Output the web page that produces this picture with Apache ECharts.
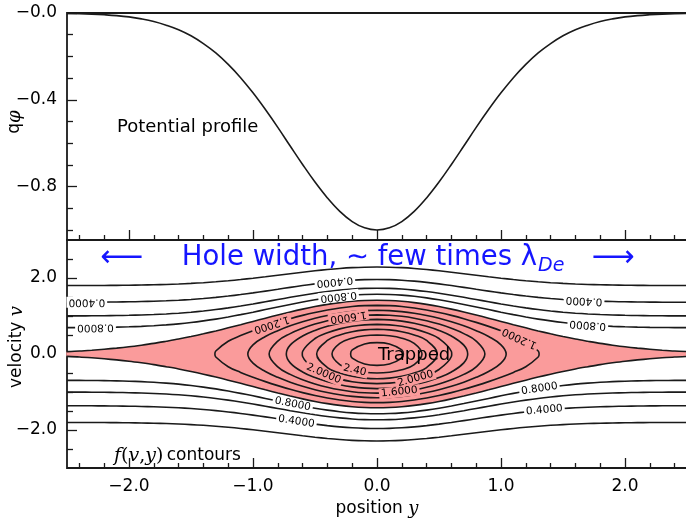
<!DOCTYPE html>
<html><head><meta charset="utf-8">
<script src="https://cdn.jsdelivr.net/npm/echarts@6/dist/echarts.min.js"></script>
<style>html,body{margin:0;padding:0;background:#fff}#c{width:686px;height:521px}</style>
</head><body><div id="c"></div>
<script>
// ---- data ----
// potential profile q*phi, sampled at |y| (profile is symmetric in y)
const phiAbsY = [0,0.1,0.2,0.3,0.4,0.5,0.6,0.7,0.8,0.9,1.0,1.1,1.2,1.3,1.4,1.5,1.6,1.7,1.8,1.9,2.0,2.1,2.2,2.3,2.4,2.5];
const phiVals = [-1.000,-0.990,-0.961,-0.914,-0.852,-0.779,-0.698,-0.613,-0.527,-0.445,-0.368,-0.298,-0.237,-0.184,-0.141,-0.105,-0.077,-0.056,-0.039,-0.027,-0.018,-0.012,-0.008,-0.005,-0.003,-0.002];
// passing (untrapped) contours: level and far-field velocity |v| at the plot edges
const passingLevels = [0.8, 0.6, 0.4, 0.2];
const passingVinf   = [0.69, 1.00, 1.36, 1.80];
// trapped contours: level and |v| where each crosses y = 0
const trappedLevels = [1.2, 1.4, 1.6, 1.8, 2.0, 2.2, 2.4, 2.6];
const trappedVc     = [1.28, 1.15, 1.03, 0.91, 0.78, 0.65, 0.50, 0.30];
// contour labels: text, y position, which contour, branch (+1 upper / -1 lower), upside-down
const labelText   = ['0.4000','0.8000','0.4000','0.8000','1.2000','1.6000','2.0000','2.40','2.0000','1.6000','0.8000','0.4000','0.8000','0.4000','0.4000','0.8000','1.2000'];
const labelY      = [-2.34,-2.27,-0.34,-0.31,-0.85,-0.23,-0.43,-0.18,0.31,0.18,-0.68,-0.65,1.31,1.35,1.67,1.70,1.15];
const labelLevel  = [0.4,0.8,0.4,0.8,1.2,1.6,2.0,2.4,2.0,1.6,0.8,0.4,0.8,0.4,0.4,0.8,1.2];
const labelBranch = [1,1,1,1,1,1,-1,-1,-1,-1,-1,-1,-1,-1,1,1,1];
const labelFlip   = [1,1,1,1,1,1,0,0,0,0,0,0,0,0,1,1,1];
// ticks
const xMajorTicks = [-2,-1,0,1,2];
const xMinorTicks = [-2.4,-2.2,-1.8,-1.6,-1.4,-1.2,-0.8,-0.6,-0.4,-0.2,0.2,0.4,0.6,0.8,1.2,1.4,1.6,1.8,2.2,2.4];
const phiMajorTicks = [-0.8,-0.4,0];
const phiMinorTicks = [-1.0,-0.9,-0.7,-0.6,-0.5,-0.3,-0.2,-0.1];
const vMajorTicks = [-2,0,2];
const vMinorTicks = [-2.5,-1.5,-1,-0.5,0.5,1,1.5,2.5];

// ---- build full profile ----
const ys  = phiAbsY.slice(1).reverse().map(a => -a).concat(phiAbsY);
const phi = phiVals.slice(1).reverse().concat(phiVals);
const psi = phi.map(p => -p);
const ic = phiAbsY.length - 1; // index of y = 0
const psi0 = psi[ic];

function psiAt(y){
  const a = Math.abs(y);
  for (let i = 0; i < phiAbsY.length - 1; i++){
    if (a >= phiAbsY[i] && a <= phiAbsY[i+1]){
      const t = (a - phiAbsY[i]) / (phiAbsY[i+1] - phiAbsY[i]);
      return -(phiVals[i] + t * (phiVals[i+1] - phiVals[i]));
    }
  }
  return -phiVals[phiVals.length-1];
}
// contours of f are lines of constant energy v^2/2 + q phi
function passingCurve(vinf, sign){ return ys.map((y,i) => [y, sign*Math.sqrt(vinf*vinf + 2*psi[i])]); }
function trappedCurve(vc){
  const g = psi.map(p => vc*vc - 2*(psi0 - p));
  let i0 = ic; while (i0 > 0 && g[i0-1] > 0) i0--;
  let i1 = ic; while (i1 < ys.length-1 && g[i1+1] > 0) i1++;
  const yl = ys[i0-1] + (ys[i0]-ys[i0-1]) * (-g[i0-1])/(g[i0]-g[i0-1]);
  const yr = ys[i1] + (ys[i1+1]-ys[i1]) * (g[i1])/(g[i1]-g[i1+1]);
  const pts = [];
  for (let i = ic; i <= i1; i++) pts.push([ys[i], Math.sqrt(g[i])]);
  pts.push([yr, 0]);
  for (let i = i1; i >= i0; i--) pts.push([ys[i], -Math.sqrt(g[i])]);
  pts.push([yl, 0]);
  for (let i = i0; i <= ic; i++) pts.push([ys[i], Math.sqrt(g[i])]);
  return pts;
}
function contourV(level, y, branch){
  const pi = passingLevels.indexOf(level);
  if (pi >= 0) return branch*Math.sqrt(passingVinf[pi]**2 + 2*psiAt(y));
  const ti = trappedLevels.indexOf(level);
  const g = trappedVc[ti]**2 - 2*(psi0 - psiAt(y));
  return branch*Math.sqrt(Math.max(g, 0));
}
function isTrapped(level){ return trappedLevels.indexOf(level) >= 0; }

const sepUpper = ys.map((y,i) => [y, Math.sqrt(2*psi[i])]);
const sepLower = ys.map((y,i) => [y, -Math.sqrt(2*psi[i])]);
const sepPoly = sepUpper.concat(sepLower.slice().reverse());

const black = '#1a1a1a';
const pink = '#fa9b9b';
const blue = '#1515ff';
const sans = 'DejaVu Sans';
const serif = 'DejaVu Serif';
function fmtAll(v){ return '\u2212' + Math.abs(v).toFixed(1); }
function fmtSigned(v){ return (v < 0 ? '\u2212' : '') + Math.abs(v).toFixed(1); }
const lblStyle = {color:'#000', fontFamily:sans, fontSize:17, margin:10};

function xAx(grid, ticks, len, showLabel){
  return {type:'value', gridIndex:grid, min:-2.5, max:2.5, position:'bottom',
    axisLine:{show:false, onZero:false}, splitLine:{show:false},
    axisTick:{show:true, inside:true, length:len, customValues:ticks, lineStyle:{color:black, width:1.3}},
    axisLabel:Object.assign({show:showLabel, customValues:ticks, formatter:fmtSigned}, lblStyle)};
}
function yAx(grid, min, max, ticks, len, showLabel, fmt){
  return {type:'value', gridIndex:grid, min:min, max:max, position:'left',
    axisLine:{show:false, onZero:false}, splitLine:{show:false},
    axisTick:{show:true, inside:true, length:len, customValues:ticks, lineStyle:{color:black, width:1.3}},
    axisLabel:Object.assign({show:showLabel, customValues:ticks, formatter:fmt}, lblStyle)};
}

const series = [];
// potential profile
series.push({type:'line', xAxisIndex:0, yAxisIndex:0, data: ys.map((y,i)=>[y, phi[i]]),
  smooth:0.4, symbol:'none', lineStyle:{color:black, width:1.6}, z:2, silent:true});
// trapped region fill
series.push({type:'custom', xAxisIndex:2, yAxisIndex:2, data:[[0,0]], z:1, silent:true,
  renderItem: function(params, api){
    return {type:'polygon', shape:{points: sepPoly.map(p => api.coord(p)), smooth:0.3},
      style:{fill:pink, stroke:null}};
  }});
// separatrix
[sepUpper, sepLower].forEach(d => series.push({type:'line', xAxisIndex:2, yAxisIndex:2, data:d,
  smooth:0.3, symbol:'none', lineStyle:{color:black, width:1.6}, z:2, silent:true}));
// passing contours
passingVinf.forEach(vi => [1,-1].forEach(s => series.push({type:'line', xAxisIndex:2, yAxisIndex:2,
  data: passingCurve(vi, s), smooth:0.3, symbol:'none', lineStyle:{color:black, width:1.6}, z:2, silent:true})));
// trapped contours
trappedVc.forEach(vc => series.push({type:'line', xAxisIndex:2, yAxisIndex:2,
  data: trappedCurve(vc), smooth:0.4, symbol:'none', lineStyle:{color:black, width:1.6}, z:2, silent:true}));
// contour labels
series.push({type:'custom', xAxisIndex:2, yAxisIndex:2, z:5, silent:true,
  data: labelY.map((y,i) => [y, contourV(labelLevel[i], y, labelBranch[i])]),
  renderItem: function(params, api){
    const i = params.dataIndex;
    const y = labelY[i], lev = labelLevel[i], b = labelBranch[i];
    const p = api.coord([y, contourV(lev, y, b)]);
    const p1 = api.coord([y-0.04, contourV(lev, y-0.04, b)]);
    const p2 = api.coord([y+0.04, contourV(lev, y+0.04, b)]);
    let rot = Math.atan2(-(p2[1]-p1[1]), p2[0]-p1[0]);
    if (labelFlip[i]) rot += Math.PI;
    return {type:'text', x:p[0], y:p[1], rotation:rot,
      style:{text:labelText[i], fontFamily:sans, fontSize:10.5, fill:'#000', align:'center', verticalAlign:'middle',
        backgroundColor: isTrapped(lev) ? pink : '#fff', padding:[0,2]}};
  }});

const option = {
  animation:false,
  backgroundColor:'#fff',
  grid:[
    {left:67, top:13, width:620, height:227, containLabel:false, outerBoundsMode:'none', show:true, borderColor:black, borderWidth:1.8, backgroundColor:'transparent'},
    {left:67, top:240, width:620, height:228, containLabel:false, outerBoundsMode:'none', show:true, borderColor:black, borderWidth:1.8, backgroundColor:'transparent'}
  ],
  xAxis:[
    xAx(0, xMajorTicks, 10, false),
    xAx(0, xMinorTicks, 5, false),
    xAx(1, xMajorTicks, 10, true),
    xAx(1, xMinorTicks, 5, false)
  ],
  yAxis:[
    yAx(0, -1.046, 0, phiMajorTicks, 10, true, fmtAll),
    yAx(0, -1.046, 0, phiMinorTicks, 6, false, fmtAll),
    yAx(1, -3, 3, vMajorTicks, 10, true, fmtSigned),
    yAx(1, -3, 3, vMinorTicks, 6, false, fmtSigned)
  ],
  graphic:[
    {type:'text', x:15, y:122, rotation:Math.PI/2, z:10, style:{text:'{a|q}{b|\u03c6}', align:'center', verticalAlign:'middle',
      rich:{a:{fontFamily:sans, fontSize:17, fill:'#000'}, b:{fontFamily:serif, fontStyle:'italic', fontSize:18, fill:'#000'}}}},
    {type:'text', x:17, y:347, rotation:Math.PI/2, z:10, style:{text:'{a|velocity }{b|v}', align:'center', verticalAlign:'middle',
      rich:{a:{fontFamily:sans, fontSize:17, fill:'#000'}, b:{fontFamily:serif, fontStyle:'italic', fontSize:18, fill:'#000'}}}},
    {type:'text', x:377, y:509, z:10, style:{text:'{a|position }{b|y}', align:'center', verticalAlign:'middle',
      rich:{a:{fontFamily:sans, fontSize:17, fill:'#000'}, b:{fontFamily:serif, fontStyle:'italic', fontSize:18, fill:'#000'}}}},
    {type:'text', x:117, y:127, z:10, style:{text:'Potential profile', fontFamily:sans, fontSize:18, fill:'#000', align:'left', verticalAlign:'middle'}},
    {type:'text', x:378, y:355, z:10, style:{text:'Trapped', fontFamily:sans, fontSize:18, fill:'#000', align:'left', verticalAlign:'middle'}},
    {type:'text', x:122, y:258, z:10, style:{text:'\u27f5', fontFamily:sans, fontSize:30, fill:blue, align:'center', verticalAlign:'middle'}},
    {type:'text', x:537, y:258, z:10, style:{text:'Hole width, \u223c few times \u03bb', fontFamily:sans, fontSize:27.5, fill:blue, align:'right', verticalAlign:'middle'}},
    {type:'text', x:538, y:266, z:10, style:{text:'De', fontFamily:sans, fontStyle:'italic', fontSize:19, fill:blue, align:'left', verticalAlign:'middle'}},
    {type:'text', x:613, y:258, z:10, style:{text:'\u27f6', fontFamily:sans, fontSize:30, fill:blue, align:'center', verticalAlign:'middle'}},
    {type:'text', x:114, y:456, z:10, style:{text:'{f|f}{p|(}{f|v}{p|,}{f|y}{p|)} {c|contours}', align:'left', verticalAlign:'middle',
      rich:{f:{fontFamily:serif, fontStyle:'italic', fontSize:19, fill:'#000'}, p:{fontFamily:serif, fontSize:19, fill:'#000'}, c:{fontFamily:sans, fontSize:17, fill:'#000'}}}}
  ],
  series: series
};
const chart = echarts.init(document.getElementById('c'));
chart.setOption(option);
</script>
</body></html>
